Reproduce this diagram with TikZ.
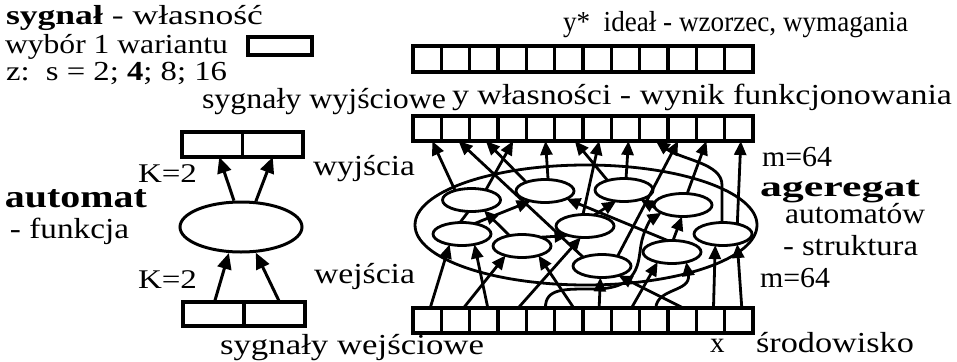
\documentclass[tikz,border=0pt]{standalone}
\usepackage{fontspec}
\setmainfont{Liberation Serif}
\usetikzlibrary{arrows.meta,shapes.geometric}
% stretch a text horizontally to a given width (in pt), keeping its height
\newcommand\fitw[2]{\resizebox{#1pt}{\height}{#2}}

\begin{document}
\begin{tikzpicture}[x=1pt,y=-1pt,
  lbl/.style={anchor=base west, inner sep=0pt, outer sep=0pt, font=\fontsize{29}{29}\selectfont},
  lblsm/.style={lbl, font=\fontsize{27.5}{27.5}\selectfont},
  lblb/.style={lbl, font=\fontsize{32}{32}\selectfont\bfseries},
  cell/.style={draw, line width=3.3pt, minimum width=28.33pt, minimum height=25pt, inner sep=0pt, outer sep=0pt},
  automaton/.style={draw, ellipse, fill=white, line width=2.8pt, minimum width=58pt, minimum height=23pt, inner sep=0pt, outer sep=0pt},
  wire/.style={line width=2.8pt, -{Triangle[length=14pt,width=12pt]}},
  bigwire/.style={line width=3pt, -{Triangle[length=16pt,width=14pt]}},
  link/.style={line width=2.8pt}
]
\path[use as bounding box, fill=white] (0,0) rectangle (957,361);

% ---------- texts, left column ----------
\node[lblsm] (tsyg) at (6,25) {\fitw{257}{\textbf{sygnał} - własność}};
\node[lblsm] (twyb) at (5,53) {\fitw{223}{wybór 1 wariantu}};
\node[lblsm] (tz) at (6,80) {\fitw{221}{z:\ \ s = 2; \textbf{4}; 8; 16}};
\node[cell, minimum width=64pt, minimum height=18pt] (wb) at (280,46) {};

\node[lbl] (tsw) at (202,108) {\fitw{244}{sygnały wyjściowe}};
\node[lbl, font=\fontsize{27}{27}\selectfont] (tk1) at (138,182) {\fitw{59}{K=2}};
\node[lbl] (twy) at (313,175) {\fitw{102}{wyjścia}};
\node[lblb] (taut) at (5,207) {\fitw{142}{automat}};
\node[lbl] (tfun) at (10,238) {\fitw{119}{- funkcja}};
\node[lbl, font=\fontsize{27}{27}\selectfont] (tk2) at (138,288) {\fitw{59}{K=2}};
\node[lbl] (twe) at (314,283) {\fitw{101}{wejścia}};
\node[lbl] (tswe) at (220,354) {\fitw{264}{sygnały wejściowe}};

% ---------- texts, right column ----------
\node[lbl] (tyst) at (563,32) {\fitw{345}{y*\ \ ideał - wzorzec, wymagania}};
\node[lbl] (tyw) at (452,104) {\fitw{500}{y własności - wynik funkcjonowania}};
\node[lbl] (tm1) at (762,166) {\fitw{70}{m=64}};
\node[lblb, font=\fontsize{29}{29}\selectfont\bfseries] (tag) at (760,196) {\fitw{160}{ageregat}};
\node[lbl] (tam) at (785,223) {\fitw{140}{automatów}};
\node[lbl] (tstr) at (783,255) {\fitw{135}{- struktura}};
\node[lbl] (tm2) at (760,287) {\fitw{70}{m=64}};
\node[lbl] (tx) at (710,352) {x};
\node[lbl] (tsr) at (756,352) {\fitw{158}{środowisko}};

% ---------- single automaton ----------
\node[cell, minimum width=60.5pt] (ao0) at (212.25,144.5) {};
\node[cell, minimum width=60.5pt] (ao1) at (272.75,144.5) {};
\node[cell, minimum width=61pt, minimum height=24pt] (ai0) at (213.5,314) {};
\node[cell, minimum width=61pt, minimum height=24pt] (ai1) at (274.5,314) {};
\node[draw, ellipse, line width=3pt, minimum width=122pt, minimum height=50pt, inner sep=0pt] (A) at (241,227) {};

\draw[bigwire] ([xshift=1pt]ai0.north) -- (A.245);
\draw[bigwire] ([xshift=5pt]ai1.north) -- (A.300);
\draw[bigwire] (A.105) -- ([xshift=7pt]ao0.south);
\draw[bigwire] (A.60) -- (ao1.south);

% ---------- signal rows ----------
\foreach \i in {0,...,11} {
  \node[cell, minimum height=26pt] (ys\i) at ({427.17+28.33*\i},59) {};
  \node[cell] (yo\i) at ({427.17+28.33*\i},128.5) {};
  \node[cell] (xi\i) at ({427.17+28.33*\i},320.5) {};
}

% ---------- aggregate of automata ----------
\node[draw, ellipse, line width=2.8pt, minimum width=342pt, minimum height=120pt, inner sep=0pt] (G) at (586,225) {};

\node[automaton] (E1) at (471.5,200) {};
\node[automaton] (E2) at (462,234) {};
\node[automaton] (E3) at (545,191) {};
\node[automaton] (E4) at (624,190) {};
\node[automaton] (E5) at (585,226) {};
\node[automaton] (E6) at (522,246) {};
\node[automaton] (E7) at (683,205) {};
\node[automaton] (E8) at (723,234) {};
\node[automaton] (E9) at (672,252) {};
\node[automaton] (E10) at (602,266) {};

% outputs to the y row
\draw[wire] (E1.150) -- ([xshift=5pt]yo0.south);
\draw[wire] (E10.155) -- ([xshift=3pt]yo1.south);
\draw[wire] (E3.155) -- ([xshift=2pt]yo2.south);
\draw[wire] (E1.35) -- ([xshift=1pt]yo3.south);
\draw[wire] (E3.75) -- ([xshift=5pt]yo4.south);
\draw[wire] (E4.150) -- ([xshift=6pt]yo5.south);
\draw[wire] (E5.100) -- ([xshift=2pt]yo6.south);
\draw[wire] (E4.80) -- ([xshift=3pt]yo7.south);
\draw[wire] (E8.95) -- (722,185) .. controls (722,163) and (682,160) .. ([xshift=2pt]yo8.south);
\draw[wire] (E10.32) -- ([xshift=-4pt]yo9.south);
\draw[wire] (E7.70) -- ([xshift=-4pt]yo10.south);
\draw[wire] (E8.35) -- ([xshift=2pt]yo11.south);

% inputs from the x row
\draw[wire] ([xshift=3pt]xi0.north) -- (E2.220);
\draw[wire] ([xshift=8pt]xi1.north) -- (E6.210);
\draw[wire] ([xshift=4pt]xi2.north) -- (E2.320);
\draw[wire] ([xshift=6pt]xi3.north) -- (E5.250);
\draw[wire] ([xshift=5pt]xi4.north) .. controls (545,288) and (565,289) .. (594,289)
  .. controls (640,289) and (638,262) .. (641,245)
  .. controls (643,232) and (650,220) .. (E7.200);
\draw[wire] ([xshift=5pt]xi5.north) -- (E6.330);
\draw[wire] ([xshift=2pt]xi6.north) -- (E10.262);
\draw[wire] ([xshift=6pt]xi7.north) -- (E9.215);
\draw[wire] ([xshift=2pt]xi8.north) .. controls (657,288) and (691,292) .. (E9.325);
\draw[wire] ([xshift=1pt]xi9.north) -- (E10.330);
\draw[wire] ([xshift=3pt]xi10.north) -- (E8.235);
\draw[wire] ([xshift=3pt]xi11.north) -- (E8.325);

% links between automata
\draw[wire] (E2.40) -- (E3.215);
\draw[wire] (E6.140) -- (E1.320);
\draw[link] (E2.100) -- (E1.255);
\draw[wire] (E6.25) -- (E5.210);
\draw[wire] (E9.110) -- (E3.340);
\draw[wire] (E7.185) -- (E4.330);
\draw[wire] (E9.85) -- (E7.265);
\draw[wire] (E5.50) -- (E4.235);
\end{tikzpicture}
\end{document}
